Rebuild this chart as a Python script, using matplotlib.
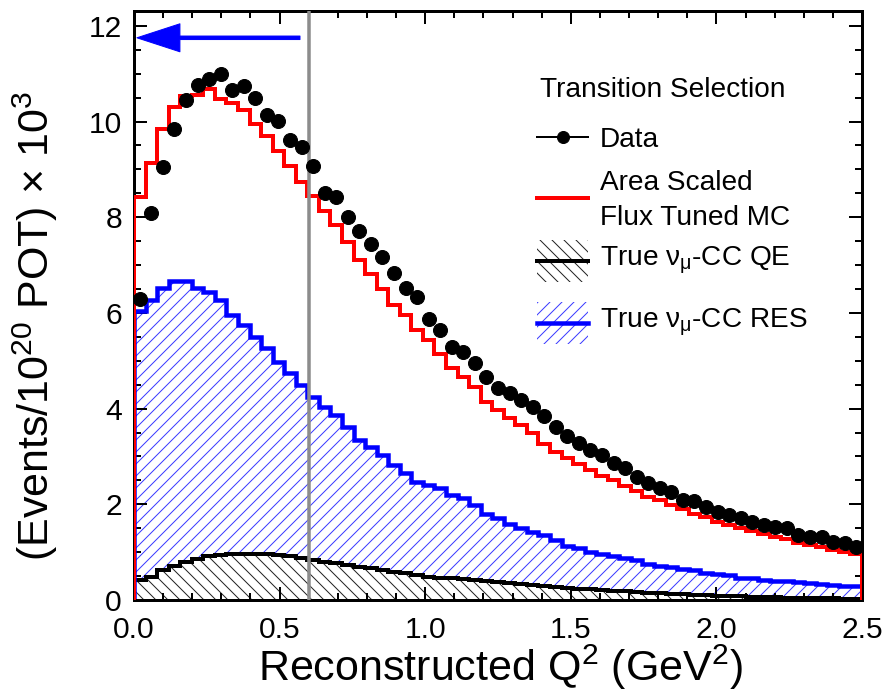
import numpy as np
import matplotlib
matplotlib.use('Agg')
import matplotlib.pyplot as plt
from matplotlib.patches import Rectangle
from matplotlib.lines import Line2D
from matplotlib.ticker import MultipleLocator

plt.rcParams['font.family'] = ['Liberation Sans', 'DejaVu Sans']
plt.rcParams['mathtext.fontset'] = 'custom'
plt.rcParams['mathtext.rm'] = 'Liberation Sans'
plt.rcParams['mathtext.it'] = 'Liberation Sans:italic'
plt.rcParams['mathtext.bf'] = 'Liberation Sans:bold'
plt.rcParams['hatch.linewidth'] = 1.0

# Q^2 binning (GeV^2), 63 bins from 0 to 2.5
bin_edges = np.linspace(0.0, 2.5, 64)

# events / 1e20 POT, in units of 1e3
data_counts = [6.30, 8.08, 9.04, 9.85, 10.46, 10.77, 10.88, 11.00, 10.65, 10.75,
               10.50, 10.13, 10.02, 9.62, 9.46, 9.08, 8.50, 8.43, 8.00, 7.72,
               7.43, 7.16, 6.83, 6.53, 6.33, 5.88, 5.65, 5.29, 5.18, 4.96,
               4.67, 4.44, 4.33, 4.18, 4.03, 3.84, 3.61, 3.42, 3.28, 3.13,
               3.03, 2.86, 2.76, 2.57, 2.44, 2.34, 2.25, 2.09, 2.07, 1.94,
               1.84, 1.77, 1.71, 1.63, 1.57, 1.52, 1.50, 1.36, 1.32, 1.32,
               1.21, 1.19, 1.11]

mc_counts = [8.42, 9.14, 9.85, 10.31, 10.53, 10.55, 10.68, 10.48, 10.38, 10.25,
             9.94, 9.70, 9.39, 9.08, 8.73, 8.45, 8.14, 7.83, 7.48, 7.10,
             6.82, 6.51, 6.16, 5.95, 5.64, 5.43, 5.15, 4.84, 4.66, 4.45,
             4.14, 3.97, 3.80, 3.65, 3.48, 3.27, 3.10, 2.97, 2.85, 2.72,
             2.60, 2.50, 2.38, 2.27, 2.15, 2.08, 1.98, 1.90, 1.80, 1.73,
             1.64, 1.57, 1.50, 1.44, 1.38, 1.32, 1.27, 1.20, 1.15, 1.10,
             1.05, 1.00, 0.96]

res_counts = [6.05, 6.26, 6.53, 6.66, 6.66, 6.53, 6.44, 6.26, 5.95, 5.74,
              5.50, 5.26, 4.97, 4.74, 4.49, 4.24, 4.03, 3.86, 3.62, 3.34,
              3.20, 3.03, 2.82, 2.65, 2.47, 2.40, 2.34, 2.20, 2.13, 1.98,
              1.80, 1.72, 1.58, 1.50, 1.42, 1.36, 1.25, 1.13, 1.08, 1.00,
              0.97, 0.92, 0.88, 0.84, 0.75, 0.72, 0.68, 0.65, 0.62, 0.56,
              0.54, 0.52, 0.47, 0.45, 0.42, 0.40, 0.39, 0.37, 0.35, 0.34,
              0.32, 0.30, 0.29]

qe_counts = [0.42, 0.48, 0.62, 0.72, 0.80, 0.86, 0.92, 0.95, 0.96, 0.96,
             0.96, 0.96, 0.95, 0.92, 0.88, 0.84, 0.80, 0.77, 0.73, 0.69,
             0.66, 0.62, 0.59, 0.56, 0.52, 0.49, 0.47, 0.45, 0.43, 0.41,
             0.39, 0.37, 0.35, 0.33, 0.31, 0.29, 0.27, 0.26, 0.24, 0.22,
             0.21, 0.19, 0.18, 0.17, 0.15, 0.14, 0.13, 0.12, 0.11, 0.10,
             0.09, 0.08, 0.08, 0.07, 0.06, 0.06, 0.05, 0.05, 0.04, 0.04,
             0.04, 0.03, 0.03]

cut_q2 = 0.6
arrow_y = 11.75
arrow_start, arrow_end = 0.57, 0.01

RES_BLUE = '#0000ff'
RES_HATCH = '#3a3aff'
QE_HATCH = '#222222'

centers = 0.5 * (bin_edges[1:] + bin_edges[:-1])
half_width = 0.5 * np.diff(bin_edges)
qe = np.array(qe_counts)
res = np.array(res_counts)

fig = plt.figure(figsize=(885 / 72, 696 / 72), dpi=72)
ax = fig.add_axes([134 / 885, 96 / 696, 728 / 885, 589 / 696])

# hatched components: QE from zero, RES stacked above it
ax.stairs(qe, bin_edges, baseline=0, fill=True, facecolor='none',
          edgecolor=QE_HATCH, hatch='\\\\', lw=0, zorder=1)
ax.stairs(res, bin_edges, baseline=qe, fill=True, facecolor='none',
          edgecolor=RES_HATCH, hatch='//', lw=0, zorder=1)
ax.stairs(qe, bin_edges, color='black', lw=4, zorder=2)
ax.stairs(res, bin_edges, color=RES_BLUE, lw=4.5, zorder=2)
ax.stairs(mc_counts, bin_edges, color='#ff0000', lw=4, zorder=3)

ax.axvline(cut_q2, color='#8c8c8c', lw=3.5, zorder=4)

ax.errorbar(centers, data_counts, xerr=half_width, fmt='o', color='black',
            ms=14, elinewidth=1.5, capsize=0, zorder=5)

ax.annotate('', xy=(arrow_end, arrow_y), xytext=(arrow_start, arrow_y),
            arrowprops=dict(facecolor=RES_BLUE, edgecolor=RES_BLUE, width=3.5,
                            headwidth=28, headlength=43, shrink=0))

ax.set_xlim(0, 2.5)
ax.set_ylim(0, 12.31)
ax.xaxis.set_minor_locator(MultipleLocator(0.1))
ax.yaxis.set_major_locator(MultipleLocator(2))
ax.yaxis.set_minor_locator(MultipleLocator(0.5))
ax.set_xticks([0, 0.5, 1.0, 1.5, 2.0, 2.5])
ax.set_xticklabels(['0.0', '0.5', '1.0', '1.5', '2.0', '2.5'])
ax.tick_params(which='both', direction='in', top=True, right=True, width=2)
ax.tick_params(which='major', length=13, labelsize=30)
ax.tick_params(which='minor', length=7)
ax.tick_params(axis='x', which='major', pad=16)
ax.tick_params(axis='y', which='major', pad=12)
for sp in ax.spines.values():
    sp.set_linewidth(3)

ax.set_xlabel('Reconstructed Q$^{2}$ (GeV$^{2}$)', fontsize=43)
ax.xaxis.set_label_coords(0.503, -0.114)
ax.xaxis.label.set_va('center')
ax.set_ylabel('(Events/10$^{20}$ POT) × 10$^{3}$', fontsize=43)
ax.yaxis.set_label_coords(-0.135, 0.465)
ax.yaxis.label.set_va('center')


# legend, laid out in axes fractions
def ax_xy(px, py):
    return (px - 134) / 728, (600 - py) / 589


def key_box(py, color, hatch, line_color, lw):
    x0, y0 = ax_xy(537, py + 21)
    x1, y1 = ax_xy(588, py - 21)
    ax.add_patch(Rectangle((x0, y0), x1 - x0, y1 - y0, transform=ax.transAxes,
                           facecolor='none', edgecolor=color, hatch=hatch,
                           lw=0, clip_on=False, zorder=6))
    xa, ya = ax_xy(537, py)
    xb, _ = ax_xy(588, py)
    ax.add_line(Line2D([xa, xb], [ya, ya], transform=ax.transAxes,
                       color=line_color, lw=lw, clip_on=False, zorder=7))


fs = 28
tx, _ = ax_xy(600, 0)
ax.text(*ax_xy(540, 97), 'Transition Selection', transform=ax.transAxes,
        fontsize=fs, va='baseline', ha='left')

xa, ya = ax_xy(537, 137)
xb, _ = ax_xy(588, 137)
ax.add_line(Line2D([xa, xb], [ya, ya], transform=ax.transAxes, color='black',
                   lw=2, clip_on=False, zorder=7))
ax.add_line(Line2D([(xa + xb) / 2], [ya], transform=ax.transAxes, color='black',
                   marker='o', ms=12, clip_on=False, zorder=7))
ax.text(tx, ax_xy(0, 147)[1], 'Data', transform=ax.transAxes, fontsize=fs,
        va='baseline')

xa, ya = ax_xy(537, 198)
ax.add_line(Line2D([xa, xb], [ya, ya], transform=ax.transAxes, color='#ff0000',
                   lw=4, clip_on=False, zorder=7))
ax.text(tx, ax_xy(0, 190)[1], 'Area Scaled', transform=ax.transAxes,
        fontsize=fs, va='baseline')
ax.text(tx, ax_xy(0, 225)[1], 'Flux Tuned MC', transform=ax.transAxes,
        fontsize=fs, va='baseline')

key_box(261, QE_HATCH, '\\\\', 'black', 4)
ax.text(tx, ax_xy(0, 265)[1], r'True ν$_{\mathregular{μ}}$-CC QE',
        transform=ax.transAxes, fontsize=fs, va='baseline')

key_box(323, RES_HATCH, '//', RES_BLUE, 4.5)
ax.text(tx, ax_xy(0, 328)[1], r'True ν$_{\mathregular{μ}}$-CC RES',
        transform=ax.transAxes, fontsize=fs, va='baseline')

fig.savefig('out.png', dpi=72)
